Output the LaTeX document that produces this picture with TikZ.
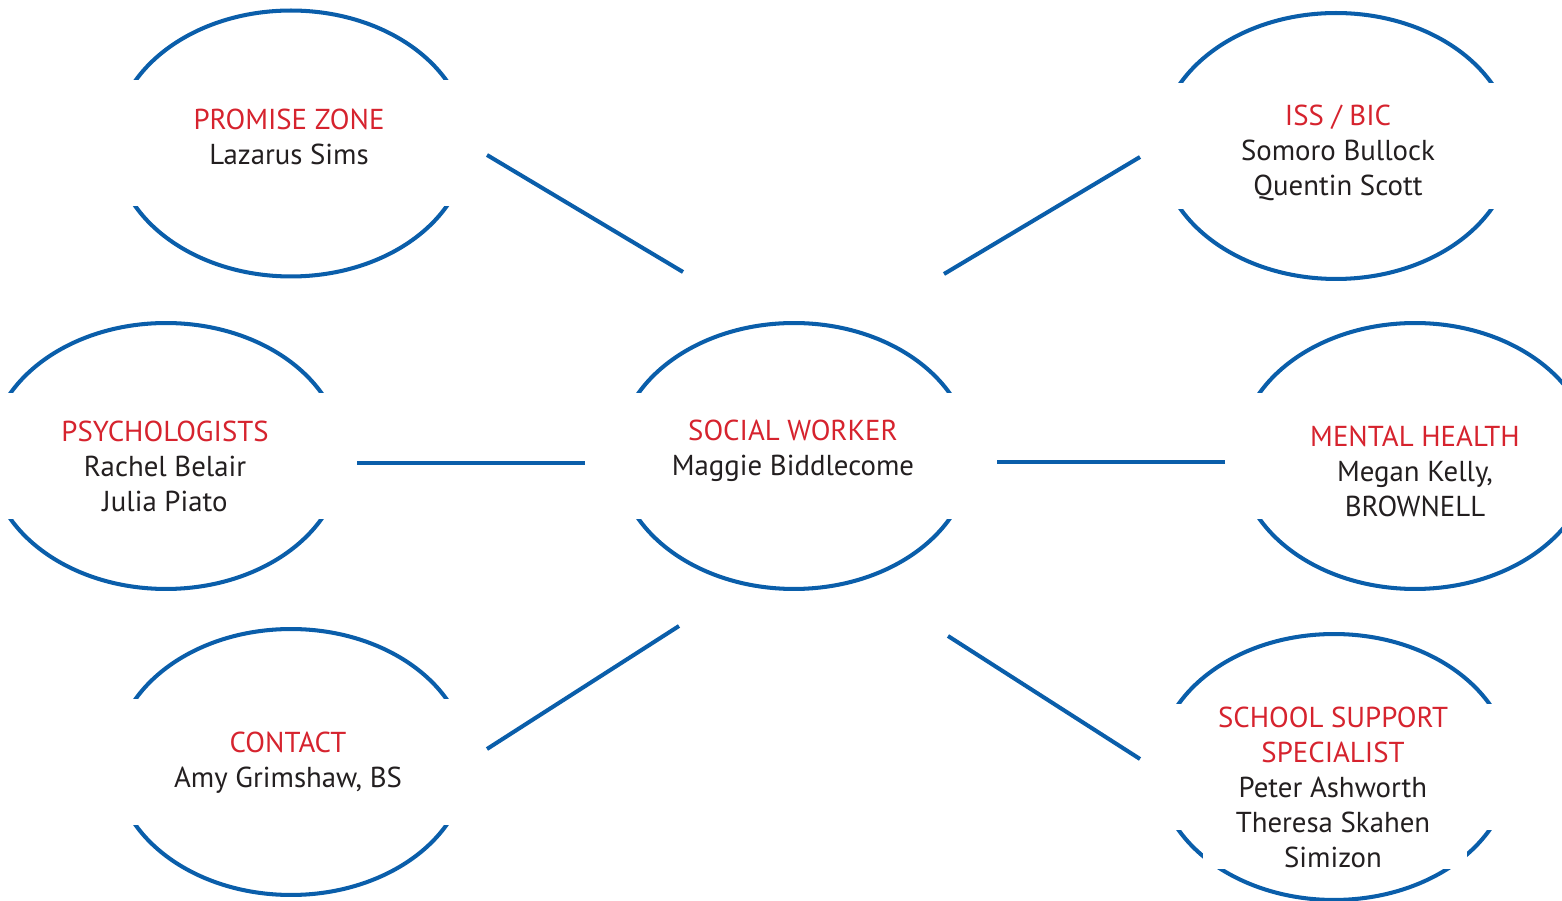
\documentclass[tikz,border=0pt]{standalone}
\usepackage{fontspec}
\setmainfont{PT Sans}
\definecolor{ringblue}{RGB}{10,94,170}
\definecolor{titlered}{RGB}{214,35,46}
\definecolor{nametext}{RGB}{35,31,32}
\newcommand{\ttl}[1]{{\color{titlered}#1}}
\tikzset{
  ring/.style={draw=ringblue, line width=2.3pt},
  link/.style={draw=ringblue, line width=2.3pt},
  band/.style={fill=white},
  txt/.style={align=center, text=nametext, font=\fontsize{16.4}{19.9}\selectfont, inner sep=0pt}
}
\begin{document}
\begin{tikzpicture}[x=0.02cm, y=-0.02cm]
\useasboundingbox (0,0) rectangle (1562,901);
% ellipses with white bands
\foreach \cx/\cy in {291/143.5, 1336/146, 166/456, 794/456, 1415/456, 291/762, 1334/767}{
  \draw[ring] (\cx,\cy) ellipse [x radius=3.53cm, y radius=2.66cm];
  \fill[band] (\cx-200,\cy-63) rectangle (\cx+200,\cy+63);
}
\fill[band] (1203,820) rectangle (1467,869);
% text nodes
\node[txt] (pz) at (289,137) {\ttl{PROMISE ZONE}\\Lazarus Sims};
\node[txt] (iss) at (1338,153) {\ttl{ISS / BIC}\\Somoro Bullock\\Quentin Scott};
\node[txt] (psy) at (165,466) {\ttl{PSYCHOLOGISTS}\\Rachel Belair\\Julia Piato};
\node[txt] (sw) at (793,451) {\ttl{SOCIAL WORKER}\\Maggie Biddlecome};
\node[txt] (mh) at (1415,471) {\ttl{MENTAL HEALTH}\\Megan Kelly,\\BROWNELL};
\node[txt] (ct) at (288,763) {\ttl{CONTACT}\\Amy Grimshaw, BS};
\node[txt] (sss) at (1333,787) {\ttl{SCHOOL SUPPORT}\\\ttl{SPECIALIST}\\Peter Ashworth\\Theresa Skahen\\Simizon};
% connector end points
\coordinate (pzA) at (487,155);  \coordinate (pzB) at (683,272);
\coordinate (issA) at (1140,157); \coordinate (issB) at (944,274);
\coordinate (psyA) at (357,463); \coordinate (psyB) at (585,463);
\coordinate (mhA) at (1225,462); \coordinate (mhB) at (997,462);
\coordinate (ctA) at (487,749);  \coordinate (ctB) at (679,626);
\coordinate (sssA) at (1140,759); \coordinate (sssB) at (948,636);
\draw[link] (pzA) -- (pzB);
\draw[link] (issA) -- (issB);
\draw[link] (psyA) -- (psyB);
\draw[link] (mhA) -- (mhB);
\draw[link] (ctA) -- (ctB);
\draw[link] (sssA) -- (sssB);
\end{tikzpicture}
\end{document}
